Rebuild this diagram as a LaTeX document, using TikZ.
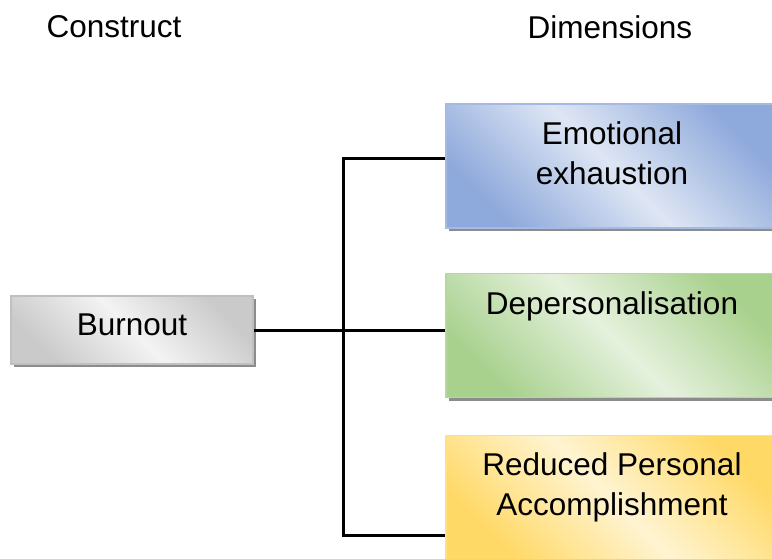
\documentclass[tikz,border=0pt]{standalone}
\usepackage{fontspec}
\setmainfont{Liberation Sans}
\usepackage{xcolor}
\usetikzlibrary{positioning, shadows}
\definecolor{bluedark}{RGB}{142,169,219}
\definecolor{bluelight}{RGB}{222,230,244}
\definecolor{blueedge}{RGB}{164,186,226}
\definecolor{greendark}{RGB}{169,209,142}
\definecolor{greenlight}{RGB}{229,241,221}
\definecolor{greenedge}{RGB}{181,217,156}
\definecolor{yellowdark}{RGB}{255,217,102}
\definecolor{yellowlight}{RGB}{255,244,210}
\definecolor{yellowedge}{RGB}{255,224,131}
\definecolor{greydark}{RGB}{202,202,202}
\definecolor{greylight}{RGB}{243,243,243}
\definecolor{greyedge}{RGB}{192,192,192}

\begin{document}
\begin{tikzpicture}[x=0.5pt, y=-0.5pt,
    font=\fontsize{15.75pt}{19.8pt}\selectfont,
    box/.style={draw, line width=0.75pt, inner sep=0pt,
                minimum width=166pt, minimum height=62pt,
                drop shadow={shadow xshift=1.5pt, shadow yshift=-1.5pt, fill=black!45, opacity=1}},
    greybox/.style={box, color=greyedge, top color=greydark, bottom color=greydark, middle color=greylight,
                shading angle=-45, minimum width=121pt, minimum height=34pt},
    bluebox/.style={box, color=blueedge, top color=bluedark, bottom color=bluedark, middle color=bluelight,
                shading angle=-45},
    greenbox/.style={box, color=greenedge, top color=greendark, bottom color=greendark, middle color=greenlight,
                shading angle=-45},
    yellowbox/.style={box, color=yellowedge, top color=yellowdark, bottom color=yellowdark, middle color=yellowlight,
                shading angle=-45},
    lbl/.style={align=center, inner sep=0pt, anchor=north, text=black},
    head/.style={inner sep=0pt, text=black},
    link/.style={line width=1.5pt, color=black}]

  \useasboundingbox (0,0) rectangle (772,558);

  % column headings
  \node[head] (construct) at (114,27) {Construct};
  \node[head] (dimensions) at (610,27) {Dimensions};

  % construct and its dimensions
  \node[greybox] (burn) at (132,330) {};
  \node[bluebox] (emo) at (612,166) {};
  \node[greenbox] (dep) at (612,335.5) {};
  \node[yellowbox] (red) at (612,497.5) {};

  \node[lbl] (burntxt) at ([yshift=-9pt]burn.north) {Burnout};
  \node[lbl] (emotxt) at ([yshift=-9pt]emo.north) {Emotional\\exhaustion};
  \node[lbl] (deptxt) at ([yshift=-9.5pt]dep.north) {Depersonalisation};
  \node[lbl] (redtxt) at ([yshift=-9pt]red.north) {Reduced Personal\\Accomplishment};

  % bracket
  \coordinate (spinetop) at (343,158);
  \coordinate (spinebot) at (343,535);
  \draw[link] (emo.west |- spinetop) -- (spinetop) -- (spinebot) -- (red.west |- spinebot);
  \draw[link] (burn.east) -- (burn.east -| dep.west);
\end{tikzpicture}
\end{document}
